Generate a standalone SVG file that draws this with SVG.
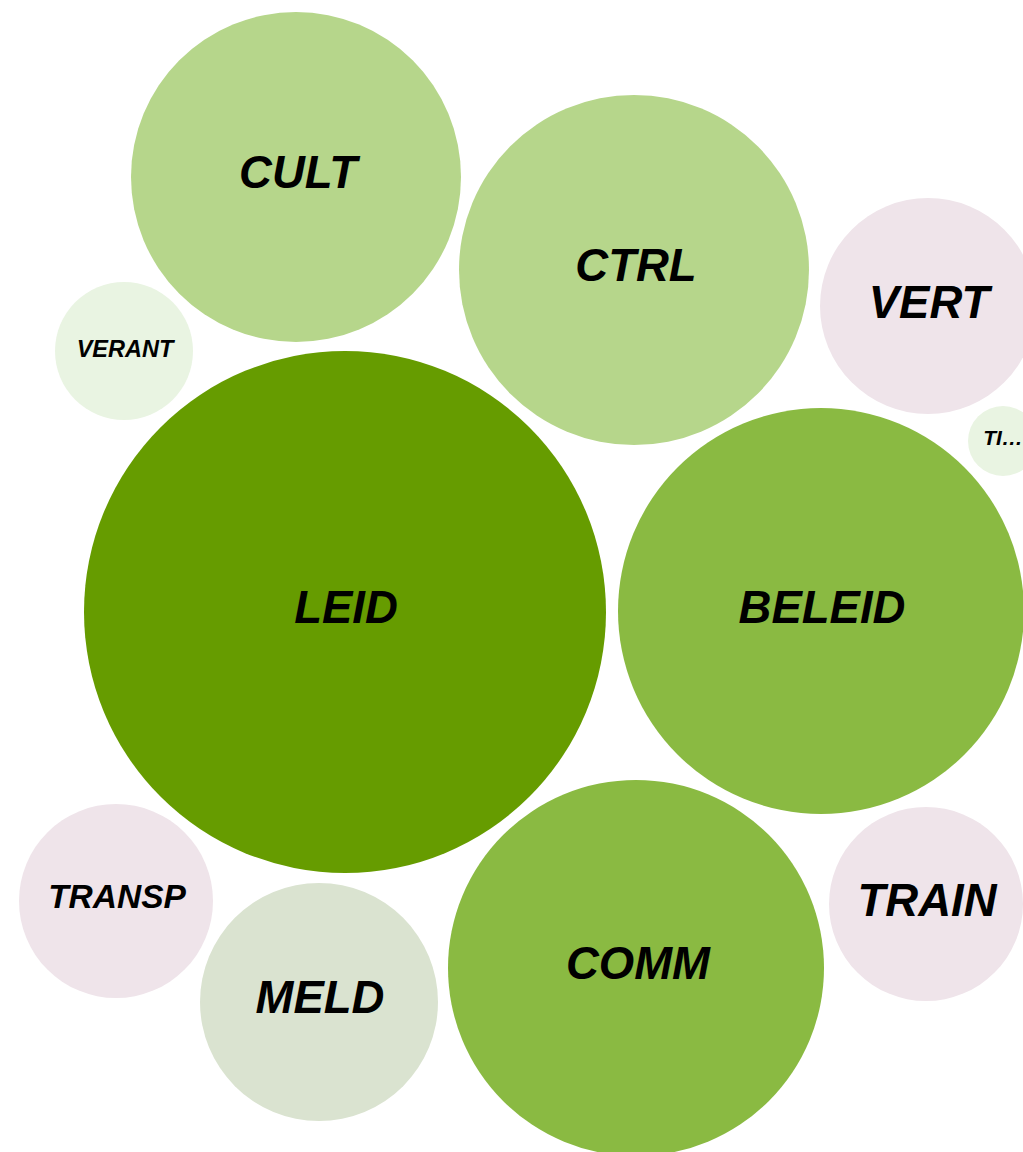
<svg xmlns="http://www.w3.org/2000/svg" width="1023" height="1152" viewBox="0 0 1023 1152">
<style>
text{font-family:"Liberation Sans",Arial,sans-serif;font-weight:bold;font-style:italic;fill:#000;text-anchor:middle}
.l{font-size:45.5px}
.c1{fill:#669c00}.c2{fill:#8aba42}.c3{fill:#b6d68b}.c4{fill:#efe4ea}.c5{fill:#e9f4e2}.c6{fill:#dae3d0}
</style>
<rect width="1023" height="1152" fill="#fff"/>
<g id="connectors"/>
<g id="CULT"><circle class="c3" cx="296" cy="177" r="165"/><text class="l" x="298" y="188">CULT</text></g>
<g id="CTRL"><circle class="c3" cx="634" cy="270" r="175"/><text class="l" x="636" y="281">CTRL</text></g>
<g id="VERT"><circle class="c4" cx="928" cy="306" r="108"/><text class="l" x="929" y="318">VERT</text></g>
<g id="TI"><circle class="c5" cx="1003" cy="441" r="35"/><text x="1003" y="445" style="font-size:21px">TI…</text></g>
<g id="VERANT"><circle class="c5" cx="124" cy="351" r="69"/><text x="125" y="357" style="font-size:23.5px">VERANT</text></g>
<g id="LEID"><circle class="c1" cx="345" cy="612" r="261"/><text class="l" x="346" y="623">LEID</text></g>
<g id="BELEID"><circle class="c2" cx="821" cy="611" r="203"/><text class="l" x="822" y="623">BELEID</text></g>
<g id="TRANSP"><circle class="c4" cx="116" cy="901" r="97"/><text x="117" y="908" style="font-size:33.5px">TRANSP</text></g>
<g id="MELD"><circle class="c6" cx="319" cy="1002" r="119"/><text class="l" x="320" y="1013">MELD</text></g>
<g id="COMM"><circle class="c2" cx="636" cy="968" r="188"/><text class="l" x="638" y="979">COMM</text></g>
<g id="TRAIN"><circle class="c4" cx="926" cy="904" r="97"/><text class="l" x="927" y="916">TRAIN</text></g>
</svg>
